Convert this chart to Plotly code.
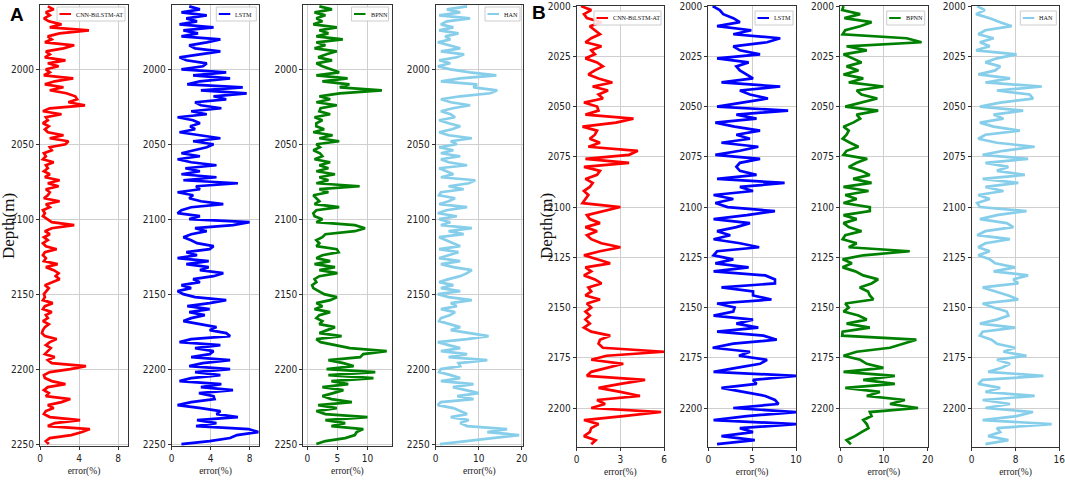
import plotly.graph_objects as go

W, H = 1065, 483

# sampled depths (m)
DEPTH_A = list(range(1958, 2251, 2))
DEPTH_B = list(range(2000, 2219, 2))

# ---- panel A errors (%) ----
ERR_A_CNN = [
    0.8, 1.4, 0.6, 1.0, 0.4, 0.9, 2.2, 1.0, 5.0, 2.0,
    0.8, 1.2, 0.5, 3.5, 2.4, 0.6, 1.0, 0.5, 2.6, 0.8,
    1.9, 0.6, 1.0, 0.4, 3.4, 1.5, 0.5, 2.4, 1.0, 2.7,
    3.6, 3.8, 2.9, 4.6, 1.0, 0.3, 2.2, 0.6, 0.8, 0.3,
    0.9, 0.5, 0.8, 2.4, 1.0, 2.9, 2.6, 1.0, 1.2, 0.4,
    0.6, 0.3, 1.4, 0.6, 0.8, 0.4, 1.0, 0.5, 2.0, 0.8,
    1.9, 0.6, 1.0, 0.8, 0.4, 2.0, 0.6, 1.0, 0.3, 0.5,
    0.3, 0.8, 1.2, 3.5, 1.2, 0.5, 1.0, 0.4, 0.8, 0.3,
    0.6, 1.7, 0.5, 0.3, 0.6, 0.4, 1.8, 0.6, 1.4, 1.9,
    1.6, 2.0, 1.2, 0.5, 0.9, 0.6, 0.4, 0.5, 0.3, 1.3,
    0.5, 0.3, 1.2, 0.6, 0.8, 0.3, 0.9, 0.5, 0.3, 0.2,
    0.5, 1.7, 1.0, 0.6, 1.1, 0.8, 0.5, 1.5, 0.8, 1.2,
    4.7, 3.1, 1.0, 0.4, 0.5, 1.2, 2.6, 0.8, 0.4, 0.9,
    0.6, 3.1, 2.2, 0.8, 1.4, 0.6, 0.4, 1.0, 4.1, 1.5,
    0.8, 5.1, 4.3, 3.2, 1.0, 0.6, 0.9,
]
ERR_A_LSTM = [
    1.8, 2.9, 1.0, 3.6, 1.5, 2.6, 0.8, 4.3, 1.2, 2.7,
    1.0, 5.0, 3.6, 1.8, 2.4, 5.0, 2.9, 0.8, 1.5, 3.6,
    3.2, 1.0, 5.6, 2.2, 6.0, 2.9, 1.6, 7.3, 3.0, 7.7,
    4.3, 5.6, 2.4, 3.0, 5.1, 2.0, 3.6, 0.6, 2.2, 2.9,
    1.9, 2.4, 0.8, 3.0, 5.0, 2.2, 4.3, 3.6, 2.4, 1.0,
    2.9, 0.6, 2.0, 4.6, 1.4, 2.9, 1.0, 4.6, 1.2, 6.8,
    2.5, 2.9, 0.6, 2.2, 1.8, 3.0, 5.3, 2.0, 1.0, 0.6,
    2.9, 1.8, 8.0, 6.3, 2.4, 3.6, 2.0, 1.2, 2.0, 2.6,
    4.3, 3.9, 1.5, 2.6, 0.6, 3.8, 1.5, 3.8, 2.9, 5.3,
    4.3, 2.2, 2.9, 1.0, 2.0, 0.6, 1.2, 2.4, 5.6, 3.9,
    1.6, 3.9, 1.8, 3.4, 2.0, 1.2, 2.9, 4.6, 3.9, 5.6,
    6.0, 2.0, 0.8, 5.0, 2.4, 4.3, 3.9, 2.0, 6.0, 3.2,
    1.8, 6.0, 2.4, 5.0, 2.0, 0.8, 5.1, 3.0, 6.3, 2.8,
    4.3, 4.4, 2.0, 0.6, 3.0, 5.0, 4.6, 6.8, 2.6, 4.6,
    2.5, 7.9, 8.9, 6.7, 6.0, 3.9, 1.0,
]
ERR_A_BPNN = [
    2.0, 4.1, 1.2, 3.0, 1.5, 2.5, 1.0, 4.9, 2.0, 3.5,
    1.5, 5.9, 1.5, 3.0, 1.2, 4.9, 3.2, 1.8, 4.1, 1.5,
    2.5, 3.8, 5.3, 1.5, 6.7, 2.5, 7.0, 5.4, 12.4, 5.4,
    2.0, 3.8, 1.5, 4.9, 2.2, 2.0, 3.8, 1.2, 2.5, 1.5,
    1.5, 2.8, 1.0, 4.2, 2.0, 5.3, 1.5, 2.1, 1.0, 2.1,
    2.5, 1.2, 3.8, 2.0, 3.5, 1.5, 4.6, 2.0, 3.5, 1.5,
    8.7, 2.0, 3.5, 1.0, 1.5, 2.0, 1.2, 5.3, 1.5, 1.0,
    1.2, 2.5, 1.5, 7.9, 9.6, 7.9, 3.0, 2.5, 1.5, 2.0,
    1.5, 4.9, 5.2, 2.5, 1.5, 3.8, 1.2, 4.6, 2.0, 5.0,
    2.0, 1.2, 1.5, 0.8, 1.0, 2.0, 2.8, 4.9, 3.8, 1.5,
    2.5, 1.2, 3.8, 2.0, 1.5, 2.5, 2.0, 4.6, 3.2, 2.0,
    5.7, 1.5, 2.2, 4.6, 7.1, 13.2, 9.3, 8.8, 3.5, 6.0,
    7.7, 3.2, 11.3, 3.5, 11.0, 4.0, 6.8, 2.5, 6.0, 4.3,
    2.5, 4.0, 7.4, 1.8, 4.9, 1.5, 3.0, 10.0, 3.0, 6.3,
    4.0, 9.3, 8.2, 7.9, 6.3, 3.0, 1.5,
]
ERR_A_HAN = [
    7.3, 2.6, 5.7, 0.8, 8.0, 2.6, 1.2, 4.1, 0.8, 5.3,
    2.2, 3.4, 0.5, 3.0, 5.7, 1.2, 6.6, 4.9, 0.8, 3.4,
    0.5, 3.4, 8.0, 14.1, 5.7, 1.2, 9.6, 8.8, 14.3, 12.7,
    5.7, 1.2, 3.5, 8.0, 4.0, 1.2, 3.5, 4.5, 0.8, 3.0,
    5.7, 3.8, 0.8, 3.0, 8.4, 3.5, 4.9, 0.8, 4.1, 1.2,
    5.7, 1.2, 3.0, 7.3, 0.8, 2.5, 4.1, 1.2, 9.2, 7.7,
    3.0, 6.5, 1.2, 0.8, 4.5, 3.0, 0.8, 7.3, 2.5, 0.5,
    4.9, 0.8, 3.4, 1.2, 8.4, 3.0, 6.5, 0.8, 2.5, 3.8,
    5.7, 0.8, 5.3, 3.0, 0.8, 5.7, 1.2, 4.1, 8.4, 7.3,
    5.7, 3.0, 0.8, 4.1, 1.2, 5.7, 0.5, 3.0, 8.4, 3.5,
    4.9, 1.2, 4.5, 3.4, 1.2, 0.8, 3.0, 5.7, 3.5, 8.0,
    12.3, 7.3, 0.5, 3.0, 5.7, 1.2, 7.3, 3.0, 12.0, 5.3,
    5.7, 1.2, 0.8, 3.5, 5.7, 1.2, 8.8, 4.0, 7.3, 10.0,
    5.0, 8.8, 1.2, 0.5, 4.1, 5.7, 7.3, 3.5, 7.7, 5.7,
    7.3, 16.6, 12.0, 19.4, 12.7, 6.5, 1.0,
]

# ---- panel B errors (%) ----
ERR_B_CNN = [
    0.3, 1.0, 0.5, 0.7, 1.7, 0.9, 1.25, 1.6, 1.0, 0.6,
    1.7, 1.0, 1.25, 0.6, 1.4, 1.8, 1.25, 0.8, 1.5, 2.45,
    1.1, 2.15, 1.5, 1.8, 0.5, 1.4, 1.5, 0.6, 3.9, 2.7,
    0.4, 1.4, 1.25, 0.9, 1.6, 0.8, 4.2, 3.6, 0.6, 3.6,
    0.5, 1.6, 1.4, 0.6, 1.1, 0.9, 0.5, 0.8, 0.6, 0.4,
    3.0, 1.8, 0.7, 0.9, 1.6, 0.6, 1.4, 0.7, 1.0, 1.7,
    3.0, 1.6, 0.5, 1.4, 2.3, 0.6, 1.0, 0.5, 1.25, 1.7,
    0.8, 1.0, 0.6, 1.6, 0.7, 1.0, 0.6, 0.9, 0.6, 0.9,
    0.5, 1.0, 2.3, 1.6, 1.5, 1.8, 6.0, 2.05, 1.0, 3.2,
    2.05, 1.0, 0.7, 4.7, 3.0, 1.5, 3.0, 4.35, 1.4, 1.95,
    1.0, 5.8, 3.2, 0.5, 1.5, 1.0, 0.9, 0.5, 1.3, 1.0,
]
ERR_B_LSTM = [
    0.5, 1.3, 1.7, 2.85, 3.6, 1.0, 4.9, 2.85, 8.2, 6.7,
    2.85, 3.6, 5.9, 1.0, 4.6, 3.2, 3.6, 4.4, 5.1, 1.5,
    8.2, 3.6, 4.75, 6.8, 3.6, 1.0, 9.1, 3.2, 5.5, 0.8,
    3.0, 5.9, 3.2, 4.75, 1.5, 5.7, 3.6, 0.8, 5.9, 3.6,
    3.2, 3.6, 5.5, 1.0, 8.7, 3.6, 5.1, 0.6, 2.85, 0.8,
    2.2, 7.6, 4.4, 0.6, 4.75, 3.2, 1.0, 2.5, 0.6, 3.6,
    5.8, 1.0, 0.6, 2.85, 0.8, 4.6, 0.6, 6.5, 7.6, 7.6,
    1.5, 5.1, 5.1, 7.2, 1.0, 3.0, 2.85, 0.6, 5.1, 3.2,
    5.7, 1.0, 6.3, 7.8, 2.85, 0.5, 4.75, 3.5, 6.7, 5.9,
    3.2, 0.6, 10.0, 5.1, 5.5, 1.5, 4.0, 6.5, 7.6, 8.0,
    2.85, 10.0, 4.4, 0.6, 10.0, 3.6, 5.1, 1.5, 5.3, 1.0,
]
ERR_B_BPNN = [
    0.8, 0.5, 4.6, 1.0, 7.2, 4.6, 1.2, 0.6, 15.2, 18.6,
    1.5, 6.1, 0.8, 3.0, 4.9, 1.5, 4.2, 0.8, 5.3, 2.0,
    9.9, 3.8, 4.9, 8.5, 4.9, 1.2, 8.7, 3.8, 4.6, 3.0,
    0.8, 2.0, 1.5, 0.6, 2.3, 4.2, 1.5, 0.8, 6.2, 3.8,
    2.0, 4.9, 6.8, 3.0, 7.2, 0.8, 6.5, 1.2, 3.8, 0.8,
    6.8, 6.8, 0.8, 3.8, 0.8, 2.0, 4.9, 1.2, 0.6, 3.8,
    2.0, 15.9, 5.3, 0.6, 2.7, 0.6, 3.5, 5.3, 8.7, 7.2,
    4.5, 6.4, 6.8, 7.6, 1.2, 2.0, 0.8, 4.2, 6.1, 1.5,
    6.8, 0.6, 0.5, 17.4, 14.4, 11.4, 3.8, 0.8, 4.6, 6.1,
    9.9, 0.8, 12.5, 5.3, 12.5, 1.2, 9.1, 6.1, 14.8, 11.4,
    17.8, 6.8, 7.2, 5.3, 6.1, 6.5, 4.9, 3.4, 1.5, 2.5,
]
ERR_B_HAN = [
    1.0, 2.4, 0.8, 3.3, 5.2, 7.3, 2.5, 1.2, 4.0, 1.5,
    3.3, 0.8, 8.2, 4.6, 2.5, 5.2, 4.3, 1.2, 7.0, 2.5,
    12.8, 4.6, 10.6, 11.2, 5.2, 1.5, 9.4, 4.0, 5.8, 1.5,
    4.0, 8.8, 2.5, 1.2, 4.6, 11.5, 5.8, 2.0, 10.3, 2.5,
    6.7, 4.6, 9.7, 2.0, 8.5, 2.5, 5.8, 1.2, 3.3, 1.0,
    1.5, 10.0, 4.6, 1.5, 6.4, 7.6, 2.5, 1.0, 7.0, 2.5,
    1.2, 3.3, 1.2, 3.3, 4.3, 7.9, 4.0, 10.3, 7.6, 8.5,
    2.0, 4.6, 6.7, 8.5, 2.0, 4.0, 6.4, 6.7, 4.6, 1.5,
    7.9, 2.0, 1.5, 3.6, 4.6, 7.9, 5.8, 10.0, 4.6, 7.0,
    5.5, 3.0, 13.1, 2.0, 1.2, 5.2, 2.5, 11.5, 2.0, 7.0,
    2.5, 11.2, 8.2, 2.0, 14.6, 4.6, 5.2, 3.0, 6.7, 2.5,
]

MODEL_NAMES = ["CNN-BiLSTM-AT", "LSTM", "BPNN", "HAN"]
MODEL_COLORS = ["#ff0000", "#0000ff", "#008000", "#87ceeb"]

for arr in (ERR_A_CNN, ERR_A_LSTM, ERR_A_BPNN, ERR_A_HAN):
    assert len(arr) == len(DEPTH_A), len(arr)
for arr in (ERR_B_CNN, ERR_B_LSTM, ERR_B_BPNN, ERR_B_HAN):
    assert len(arr) == len(DEPTH_B), len(arr)

# panel geometry in pixels: (left, right, top, bottom)
PANELS = [
    dict(err=ERR_A_CNN, depth=DEPTH_A, m=0, px=(40, 128, 5, 446), xr=[0, 9], xt=[0, 4, 8], box=68),
    dict(err=ERR_A_LSTM, depth=DEPTH_A, m=1, px=(171.7, 259.3, 5, 446), xr=[0, 9], xt=[0, 4, 8], box=40),
    dict(err=ERR_A_BPNN, depth=DEPTH_A, m=2, px=(303.3, 391.5, 5, 446), xr=[-0.67, 14.0], xt=[0, 5, 10], box=37),
    dict(err=ERR_A_HAN, depth=DEPTH_A, m=3, px=(435.7, 523, 5, 446), xr=[0, 20.3], xt=[0, 10, 20], box=35),
    dict(err=ERR_B_CNN, depth=DEPTH_B, m=0, px=(576.7, 664, 6, 447), xr=[0, 6], xt=[0, 3, 6], box=67),
    dict(err=ERR_B_LSTM, depth=DEPTH_B, m=1, px=(708.3, 796, 6, 447), xr=[0, 10], xt=[0, 5, 10], box=38),
    dict(err=ERR_B_BPNN, depth=DEPTH_B, m=2, px=(840, 927.7, 6, 447), xr=[0, 20], xt=[0, 10, 20], box=38),
    dict(err=ERR_B_HAN, depth=DEPTH_B, m=3, px=(971.7, 1059.3, 6, 447), xr=[0, 16], xt=[0, 8, 16], box=36),
]

Y_RANGE_A = [2251.3, 1957.1]
Y_TICKS_A = [2000, 2050, 2100, 2150, 2200, 2250]
Y_RANGE_B = [2219.4, 1999.95]
Y_TICKS_B = [2000, 2025, 2050, 2075, 2100, 2125, 2150, 2175, 2200]

TICK_FONT = dict(family="Liberation Sans Narrow, DejaVu Sans Condensed, Arial Narrow, Liberation Sans",
                 size=10, color="#222")
SERIF = "Liberation Serif, Times New Roman, serif"


def fx(p):
    return p / W


def fy(p):
    return 1 - p / H


fig = go.Figure()
shapes = []
annotations = []

for i, p in enumerate(PANELS):
    n = "" if i == 0 else str(i + 1)
    left, right, top, bottom = p["px"]
    is_a = p["depth"] is DEPTH_A
    color = MODEL_COLORS[p["m"]]

    fig.add_trace(go.Scatter(
        x=p["err"], y=p["depth"], mode="lines", name=MODEL_NAMES[p["m"]],
        line=dict(color=color, width=2.7), xaxis="x" + n, yaxis="y" + n,
        showlegend=False,
    ))

    axis_common = dict(
        showline=True, mirror=True, linecolor="#333", linewidth=1,
        showgrid=True, gridcolor="#cfcfcf", gridwidth=1, zeroline=False,
        ticks="outside", ticklen=3, tickcolor="#333", tickfont=TICK_FONT,
        automargin=False, ticklabeloverflow="allow",
    )
    fig.update_layout(**{
        "xaxis" + n: dict(
            domain=[fx(left), fx(right)], anchor="y" + n, range=p["xr"],
            tickmode="array", tickvals=p["xt"],
            title=dict(text="error(%)", font=dict(family=SERIF, size=9.5, color="#222"), standoff=4),
            **axis_common,
        ),
        "yaxis" + n: dict(
            domain=[fy(bottom), fy(top)], anchor="x" + n,
            range=Y_RANGE_A if is_a else Y_RANGE_B,
            tickmode="array", tickvals=Y_TICKS_A if is_a else Y_TICKS_B,
            **axis_common,
        ),
    })

    # legend box drawn per panel
    bw = p["box"]
    bx1 = right - 3
    bx0 = bx1 - bw
    by0 = top + (2 if is_a else 5)
    by1 = by0 + 14
    ymid = (by0 + by1) / 2
    shapes.append(dict(type="rect", xref="paper", yref="paper",
                       x0=fx(bx0), x1=fx(bx1), y0=fy(by1), y1=fy(by0),
                       fillcolor="rgba(255,255,255,0.85)", line=dict(color="#cccccc", width=1),
                       layer="above"))
    shapes.append(dict(type="line", xref="paper", yref="paper",
                       x0=fx(bx0 + 2.5), x1=fx(bx0 + 14), y0=fy(ymid), y1=fy(ymid),
                       line=dict(color=color, width=2), layer="above"))
    annotations.append(dict(text=MODEL_NAMES[p["m"]], xref="paper", yref="paper",
                            x=fx(bx0 + 17), y=fy(ymid), xanchor="left", yanchor="middle",
                            showarrow=False, font=dict(family=SERIF, size=6.2, color="#111")))

# panel letters and depth labels
annotations += [
    dict(text="<b>A</b>", x=fx(17), y=fy(14), xref="paper", yref="paper", showarrow=False,
         xanchor="center", yanchor="middle",
         font=dict(family="Liberation Sans, Arial", size=19, color="#000")),
    dict(text="<b>B</b>", x=fx(539), y=fy(12), xref="paper", yref="paper", showarrow=False,
         xanchor="center", yanchor="middle",
         font=dict(family="Liberation Sans, Arial", size=19, color="#000")),
    dict(text="Depth(m)", x=fx(9), y=fy(226), xref="paper", yref="paper", showarrow=False,
         xanchor="center", yanchor="middle",
         textangle=-90, font=dict(family=SERIF, size=17, color="#111")),
    dict(text="Depth(m)", x=fx(547), y=fy(226), xref="paper", yref="paper", showarrow=False,
         xanchor="center", yanchor="middle",
         textangle=-90, font=dict(family=SERIF, size=17, color="#111")),
]

fig.update_layout(
    width=W, height=H,
    margin=dict(l=0, r=0, t=0, b=0),
    paper_bgcolor="white", plot_bgcolor="white",
    showlegend=False,
    shapes=shapes, annotations=annotations,
)

# drop the browser's default 8px page margin so the figure sits at the window origin
fig.write_html("out.html", config={"displayModeBar": False},
               post_script="document.body.style.margin='0px';")
